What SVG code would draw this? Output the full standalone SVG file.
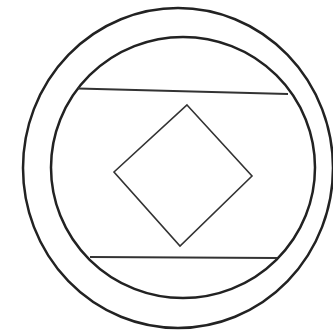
<svg xmlns="http://www.w3.org/2000/svg" width="333" height="330" viewBox="0 0 333 330">
<style>
.s{fill:none;stroke:#222;stroke-width:2.5}
.l{fill:none;stroke:#333;stroke-width:2}
.d{fill:none;stroke:#333;stroke-width:1.6}
</style>
<rect width="333" height="330" fill="#fff"/>
<g id="outer"><ellipse class="s" cx="178" cy="168" rx="155" ry="160"/></g>
<g id="inner"><ellipse class="s" cx="183" cy="167.5" rx="132" ry="130.5"/></g>
<g id="lines">
<line class="l" x1="78" y1="88.5" x2="288" y2="94"/>
<line class="l" x1="90" y1="257" x2="277" y2="258"/>
</g>
<g id="diamond"><polygon class="d" points="187,105 252,176 180,246 114,172"/></g>
</svg>
